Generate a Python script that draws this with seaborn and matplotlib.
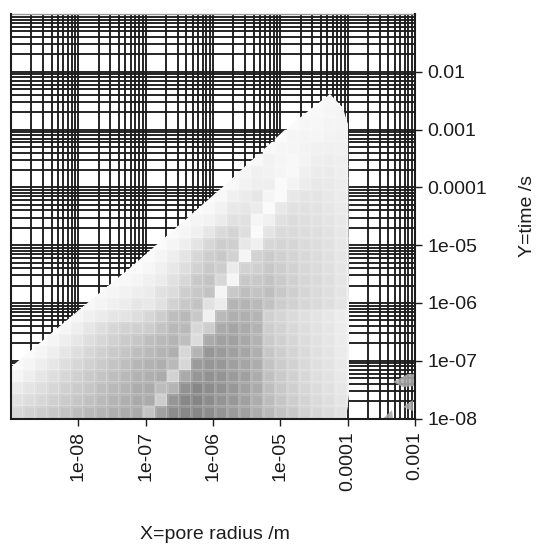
#!/usr/bin/env python3
"""
Pore radius / time map: grey cells over a log-log grid
"""

import numpy as np
import matplotlib
matplotlib.use('Agg')
import matplotlib.pyplot as plt
from matplotlib.patches import Polygon
from matplotlib.ticker import FixedFormatter, FixedLocator, LogLocator, NullFormatter
import seaborn as sns

N = np.nan

x_ticks = [1e-8, 1e-7, 1e-6, 1e-5, 1e-4, 1e-3]
x_labels = ['1e-08', '1e-07', '1e-06', '1e-05', '0.0001', '0.001']
y_ticks = [1e-8, 1e-7, 1e-6, 1e-5, 1e-4, 1e-3, 1e-2]
y_labels = ['1e-08', '1e-07', '1e-06', '1e-05', '0.0001', '0.001', '0.01']

# grey level of each cell, bottom row first
cell_grey = [
    [215,210,205,200,195,190,185,180,175,172,170,195,160,140,135,135,140,148,155,160,172,185,195,200,210,215,220,225,238],
    [225,220,215,208,203,198,192,186,180,175,170,170,205,150,135,133,140,148,152,160,172,188,198,205,212,218,222,228,238],
    [235,228,222,215,208,203,198,190,185,180,172,170,188,180,145,135,140,145,152,160,170,190,200,207,214,220,224,230,238],
    [245,238,230,222,215,208,202,196,190,185,178,175,172,210,170,150,145,148,155,160,172,192,202,208,216,222,226,232,240],
    [250,245,238,230,222,215,208,202,196,190,182,178,175,185,215,155,150,152,160,165,172,195,204,210,217,223,227,233,240],
    [250,250,245,238,230,222,215,208,202,197,190,185,180,175,215,180,150,155,160,165,175,198,206,212,218,224,228,234,240],
    [N,250,250,245,238,230,222,215,208,202,198,190,185,180,190,220,170,160,160,168,178,202,208,214,220,225,229,235,240],
    [N,N,N,250,245,238,230,222,215,210,208,205,195,185,185,215,205,170,165,170,178,205,210,216,221,226,230,236,240],
    [N,N,N,N,250,245,240,235,230,227,222,215,205,190,185,200,240,185,175,175,180,208,213,218,223,227,231,236,240],
    [N,N,N,N,N,250,248,244,240,236,230,232,225,210,200,195,225,235,180,180,185,194,205,209,214,218,222,228,238],
    [N,N,N,N,N,N,250,248,245,242,238,235,225,220,205,200,195,245,200,190,195,190,200,207,213,218,222,228,238],
    [N,N,N,N,N,N,N,250,250,248,245,240,235,225,215,200,195,215,245,200,200,195,202,208,214,218,222,228,238],
    [N,N,N,N,N,N,N,N,N,250,250,246,240,232,222,210,200,205,235,210,208,200,205,210,215,219,223,229,238],
    [N,N,N,N,N,N,N,N,N,N,250,250,245,238,228,215,205,200,210,245,210,203,208,212,216,220,224,230,238],
    [N,N,N,N,N,N,N,N,N,N,N,250,250,245,238,228,215,205,207,232,240,215,212,214,218,221,225,230,238],
    [N,N,N,N,N,N,N,N,N,N,N,N,250,250,245,240,230,218,212,222,250,228,218,218,220,222,226,231,238],
    [N,N,N,N,N,N,N,N,N,N,N,N,N,250,248,245,242,235,225,225,245,240,225,220,222,224,228,232,240],
    [N,N,N,N,N,N,N,N,N,N,N,N,N,N,N,250,248,242,232,230,235,250,232,225,225,226,230,234,240],
    [N,N,N,N,N,N,N,N,N,N,N,N,N,N,N,N,250,248,240,235,230,245,250,232,228,228,232,235,240],
    [N,N,N,N,N,N,N,N,N,N,N,N,N,N,N,N,N,250,248,242,238,238,250,243,236,232,233,236,240],
    [N,N,N,N,N,N,N,N,N,N,N,N,N,N,N,N,N,N,250,245,240,242,245,248,240,235,235,238,240],
    [N,N,N,N,N,N,N,N,N,N,N,N,N,N,N,N,N,N,N,250,248,242,245,248,243,238,237,238,240],
    [N,N,N,N,N,N,N,N,N,N,N,N,N,N,N,N,N,N,N,N,N,248,245,245,243,240,240,240,240],
    [N,N,N,N,N,N,N,N,N,N,N,N,N,N,N,N,N,N,N,N,N,N,250,245,244,245,243,242,240],
    [N,N,N,N,N,N,N,N,N,N,N,N,N,N,N,N,N,N,N,N,N,N,N,250,246,246,244,243,240],
    [N,N,N,N,N,N,N,N,N,N,N,N,N,N,N,N,N,N,N,N,N,N,N,N,250,248,246,244,N],
    [N,N,N,N,N,N,N,N,N,N,N,N,N,N,N,N,N,N,N,N,N,N,N,N,N,250,247,245,N],
]

# cell block extent
block_x = [1e-9, 1.47e-4]
block_y = [1e-8, 4.13e-3]

# outline of the filled region
outline_x = [1e-9, 1.55e-8, 5.85e-8, 1.5e-6, 1.3e-5, 5.47e-5, 8.5e-5, 9.95e-5, 1.05e-4, 1.05e-4, 9.3e-5, 1e-9]
outline_y = [7.8e-8, 1.13e-6, 4.06e-6, 1.11e-4, 1.13e-3, 4.05e-3, 2.4e-3, 1.22e-3, 1e-6, 2.7e-8, 1e-8, 1e-8]

# grey slivers on the right
sliver_a_x = [4.71e-4, 7.87e-4, 1e-3, 1e-3, 6.64e-4]
sliver_a_y = [4.3e-8, 5.9e-8, 5.9e-8, 3.66e-8, 3.5e-8]
sliver_b_x = [6.64e-4, 9.3e-4, 9.3e-4]
sliver_b_y = [1.58e-8, 2.09e-8, 1.35e-8]
sliver_c_x = [3.35e-4, 4.56e-4, 4.71e-4]
sliver_c_y = [1e-8, 1.4e-8, 1e-8]


def main():
    sns.set_theme(style='white')
    plt.rcParams['font.family'] = ['Liberation Sans', 'DejaVu Sans']
    dark = '#1c1c1c'

    fig = plt.figure(figsize=(5.40, 5.45), dpi=100)
    ax = fig.add_axes([11 / 540, 1 - 418.5 / 545, 404 / 540, 404.5 / 545])
    ax.set_xscale('log')
    ax.set_yscale('log')
    ax.set_xlim(1e-9, 1e-3)
    ax.set_ylim(1e-8, 1e-1)

    ax.xaxis.set_major_locator(FixedLocator(x_ticks))
    ax.xaxis.set_major_formatter(FixedFormatter(x_labels))
    ax.yaxis.set_major_locator(FixedLocator(y_ticks))
    ax.yaxis.set_major_formatter(FixedFormatter(y_labels))
    for axis in (ax.xaxis, ax.yaxis):
        axis.set_minor_locator(LogLocator(base=10, subs=np.arange(1, 10), numticks=20))
        axis.set_minor_formatter(NullFormatter())
    ax.yaxis.tick_right()
    ax.yaxis.set_label_position('right')

    ax.set_axisbelow(True)
    ax.grid(True, which='both', color=dark, linewidth=1.35)
    ax.tick_params(which='major', length=5, width=1, color=dark, labelcolor=dark, labelsize=14,
                   bottom=True, right=True, left=False, pad=4)
    ax.tick_params(which='minor', length=0)
    ax.tick_params(axis='x', labelrotation=90)
    ax.set_xlabel('X=pore radius /m', fontsize=14, color=dark)
    ax.set_ylabel('Y=time /s', fontsize=14, color=dark)
    ax.xaxis.set_label_coords(0.504, -0.266)
    ax.yaxis.set_label_coords(1.258, 0.5)

    for side in ('left', 'right', 'bottom'):
        ax.spines[side].set_color(dark)
        ax.spines[side].set_linewidth(1.5)
        ax.spines[side].set_zorder(6)
    ax.spines['top'].set_color('#999999')
    ax.spines['top'].set_linewidth(1)

    for sx, sy in ((sliver_a_x, sliver_a_y), (sliver_b_x, sliver_b_y), (sliver_c_x, sliver_c_y)):
        ax.fill(sx, sy, color='#a9a9a9', linewidth=0, alpha=0.88, zorder=3)

    # the cells live on a child axes that covers their part of the log axes
    inner = ax.inset_axes([block_x[0], block_y[0], block_x[1] - block_x[0], block_y[1] - block_y[0]],
                          transform=ax.transData)
    sns.heatmap(np.array(cell_grey, dtype=float)[::-1], ax=inner, cmap='gray', vmin=0, vmax=255,
                cbar=False, xticklabels=False, yticklabels=False,
                linewidths=0.9, linecolor=(1, 1, 1, 0.13))
    inner.patch.set_alpha(0)
    inner.tick_params(length=0)
    for spine in inner.spines.values():
        spine.set_visible(False)

    edge = Polygon(np.column_stack([outline_x, outline_y]), closed=True, transform=ax.transData)
    inner.collections[0].set_clip_path(edge)

    fig.savefig('out.png', dpi=100)


if __name__ == "__main__":
    main()
